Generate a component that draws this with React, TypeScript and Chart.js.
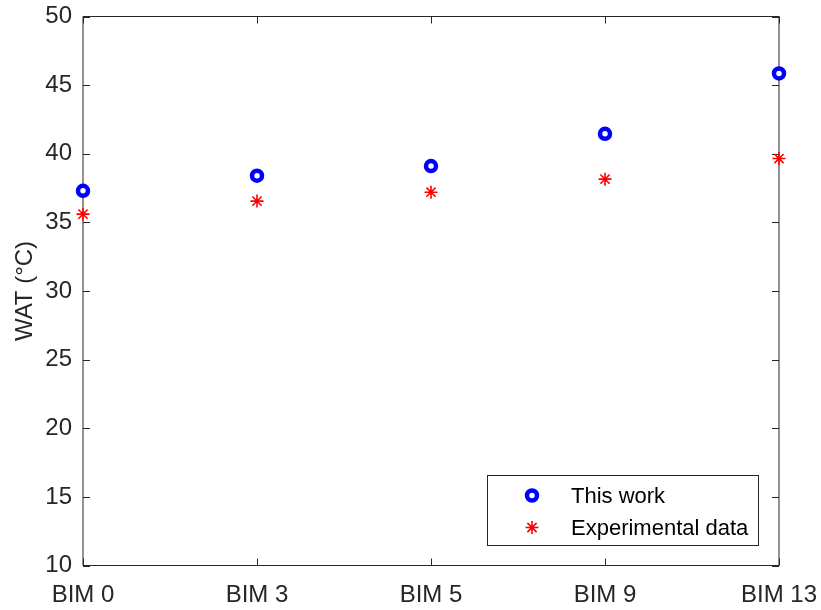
import { useEffect, useRef } from "react";
import { Chart, registerables } from "chart.js";

Chart.register(...registerables);

// Categories along the x axis
const categories = ["BIM 0", "BIM 3", "BIM 5", "BIM 9", "BIM 13"];
// Wax appearance temperature (°C)
const thisWork = [37.3, 38.4, 39.1, 41.45, 45.85];
const experimentalData = [35.6, 36.55, 37.2, 38.15, 39.65];
// Y axis range and tick step
const yMin = 10;
const yMax = 50;
const yStep = 5;

const seriesLabels = ["This work", "Experimental data"];

const AXIS_COLOR = "#262626";
const FONT = "'Liberation Sans', Arial, Helvetica, sans-serif";
const TICK_LEN = 7;

// Draw a MATLAB-style box with inward ticks on all four sides
const boxPlugin = {
  id: "boxAxes",
  beforeDatasetsDraw(chart: any) {
    const { ctx, chartArea } = chart;
    const { left, right, top, bottom } = chartArea;
    const xs = chart.scales.x;
    const ys = chart.scales.y;
    ctx.save();
    ctx.strokeStyle = AXIS_COLOR;
    ctx.lineWidth = 1;
    ctx.beginPath();
    ctx.rect(left, top, right - left, bottom - top);
    ctx.stroke();
    ctx.beginPath();
    xs.ticks.forEach((_t: any, i: number) => {
      const px = Math.round(xs.getPixelForTick(i)) + 0.5;
      ctx.moveTo(px, bottom);
      ctx.lineTo(px, bottom - TICK_LEN);
      ctx.moveTo(px, top);
      ctx.lineTo(px, top + TICK_LEN);
    });
    ys.ticks.forEach((t: any) => {
      const py = Math.round(ys.getPixelForValue(t.value)) + 0.5;
      ctx.moveTo(left, py);
      ctx.lineTo(left + TICK_LEN, py);
      ctx.moveTo(right, py);
      ctx.lineTo(right - TICK_LEN, py);
    });
    ctx.stroke();
    ctx.restore();
  },
};

// Legend box in the lower-right corner of the plot area
const legendPlugin = {
  id: "boxLegend",
  afterDraw(chart: any) {
    const { ctx, chartArea } = chart;
    const w = 271;
    const h = 70;
    const x0 = chartArea.right - 21 - w;
    const y0 = chartArea.bottom - 21 - h;
    ctx.save();
    ctx.fillStyle = "#ffffff";
    ctx.fillRect(x0, y0, w, h);
    ctx.strokeStyle = AXIS_COLOR;
    ctx.lineWidth = 1;
    ctx.strokeRect(Math.round(x0) + 0.5, Math.round(y0) + 0.5, w, h);
    ctx.font = `22px ${FONT}`;
    ctx.textAlign = "left";
    ctx.textBaseline = "middle";
    chart.data.datasets.forEach((ds: any, i: number) => {
      const cy = y0 + 21 + i * 32;
      const mx = x0 + 45;
      ctx.strokeStyle = ds.borderColor;
      ctx.lineWidth = ds.borderWidth;
      ctx.beginPath();
      if (ds.pointStyle === "circle") {
        ctx.arc(mx, cy, ds.pointRadius, 0, Math.PI * 2);
      } else {
        const r = ds.pointRadius;
        const d = r * Math.SQRT1_2;
        ctx.moveTo(mx - r, cy);
        ctx.lineTo(mx + r, cy);
        ctx.moveTo(mx, cy - r);
        ctx.lineTo(mx, cy + r);
        ctx.moveTo(mx - d, cy - d);
        ctx.lineTo(mx + d, cy + d);
        ctx.moveTo(mx - d, cy + d);
        ctx.lineTo(mx + d, cy - d);
      }
      ctx.stroke();
      ctx.fillStyle = "#000000";
      ctx.fillText(ds.label, x0 + 84, cy + 1);
    });
    ctx.restore();
  },
};

export default function App() {
  const canvasRef = useRef<HTMLCanvasElement | null>(null);

  useEffect(() => {
    if (!canvasRef.current) return;
    const chart = new Chart(canvasRef.current, {
      type: "line",
      data: {
        labels: categories,
        datasets: [
          {
            label: seriesLabels[0],
            data: thisWork,
            showLine: false,
            pointStyle: "circle",
            pointRadius: 5,
            pointBorderWidth: 4.5,
            borderWidth: 4.5,
            borderColor: "#0000ff",
            pointBorderColor: "#0000ff",
            pointBackgroundColor: "#ffffff",
            clip: false,
          },
          {
            label: seriesLabels[1],
            data: experimentalData,
            showLine: false,
            pointStyle: "star",
            pointRadius: 6.5,
            pointBorderWidth: 1.6,
            borderWidth: 1.6,
            borderColor: "#ff0000",
            pointBorderColor: "#ff0000",
            pointBackgroundColor: "#ff0000",
            clip: false,
          },
        ],
      },
      options: {
        responsive: false,
        animation: false,
        events: [],
        layout: { padding: { top: 16.5, right: 42, left: 0, bottom: 0 } },
        plugins: {
          legend: { display: false },
          tooltip: { enabled: false },
        },
        scales: {
          x: {
            type: "category",
            offset: false,
            grid: { display: false, drawTicks: false },
            border: { display: false },
            ticks: {
              color: AXIS_COLOR,
              font: { family: FONT, size: 24 },
              padding: 15,
              maxRotation: 0,
              autoSkip: false,
            },
            afterFit(scale: any) {
              scale.height = 44.5;
              scale.paddingLeft = 0;
              scale.paddingRight = 0;
            },
          },
          y: {
            min: yMin,
            max: yMax,
            grid: { display: false, drawTicks: false },
            border: { display: false },
            ticks: {
              stepSize: yStep,
              color: AXIS_COLOR,
              font: { family: FONT, size: 24 },
              padding: 11,
            },
            title: {
              display: true,
              text: "WAT (°C)",
              color: AXIS_COLOR,
              font: { family: FONT, size: 24 },
              padding: { top: 11, bottom: 0 },
            },
            afterFit(scale: any) {
              scale.width = 83;
              scale.paddingTop = 0;
              scale.paddingBottom = 0;
            },
          },
        },
      },
      plugins: [boxPlugin, legendPlugin],
    } as any);
    return () => chart.destroy();
  }, []);

  return (
    <div style={{ position: "absolute", left: 0, top: 0, width: 821, height: 610, background: "#ffffff" }}>
      <canvas ref={canvasRef} width={821} height={610} />
    </div>
  );
}
